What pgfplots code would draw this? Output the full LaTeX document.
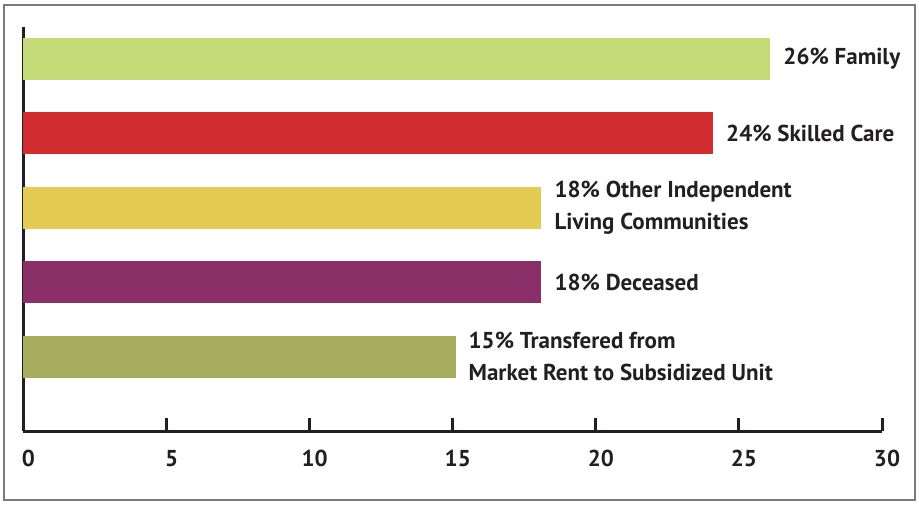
\documentclass[border=0pt]{standalone}
\usepackage{pgfplots}
\pgfplotsset{compat=1.18}
\usepackage{fontspec}
\setmainfont{PT Sans}
\definecolor{cfamily}{HTML}{C4DB78}
\definecolor{cskilled}{HTML}{D12C2E}
\definecolor{cother}{HTML}{E6CB52}
\definecolor{cdeceased}{HTML}{8A2F68}
\definecolor{ctransfer}{HTML}{A6AD5C}
\definecolor{ink}{HTML}{231F20}
\definecolor{framegray}{HTML}{7A7A7A}
\begin{document}
\begin{tikzpicture}
\begin{axis}[
    scale only axis,
    width=429.25pt,
    height=202pt,
    xbar,
    bar width=21pt,
    bar shift=0pt,
    xmin=0, xmax=30,
    ymin=0, ymax=5.43,
    axis x line*=bottom,
    axis y line*=left,
    axis line style={ink, line width=1.5pt, -},
    xtick={5,10,15,20,25,30},
    extra x ticks={0},
    extra x tick style={major tick length=0pt},
    ytick=\empty,
    tick style={ink, line width=1.5pt},
    major tick length=6.5pt,
    tick align=inside,
    xticklabel style={font=\fontsize{11.5}{14}\selectfont\bfseries, text=ink, yshift=-6pt, xshift=2.5pt},
    /pgf/number format/assume math mode=true,
    clip=false,
    point meta=explicit symbolic,
    nodes near coords,
    nodes near coords style={anchor=west, align=left, xshift=3pt,
        font=\fontsize{11.5}{16}\selectfont\bfseries, text=ink},
    ]
\addplot[fill=cfamily, draw=none] coordinates {(26.1,5) [26\% Family]};
\addplot[fill=cskilled, draw=none] coordinates {(24.1,4) [24\% Skilled Care]};
\addplot[fill=cother, draw=none] coordinates {(18.1,3) [{18\% Other Independent\\Living Communities}]};
\addplot[fill=cdeceased, draw=none] coordinates {(18.1,2) [18\% Deceased]};
\addplot[fill=ctransfer, draw=none] coordinates {(15.1,1) [{15\% Transfered from\\Market Rent to Subsidized Unit}]};
\end{axis}
\draw[framegray, line width=1pt]
    ([xshift=-9.75pt, yshift=-34.5pt]current axis.south west)
    rectangle ([xshift=16.5pt, yshift=11pt]current axis.north east);
\pgfresetboundingbox
\path[use as bounding box]
    ([xshift=-11.75pt, yshift=-36.5pt]current axis.south west)
    rectangle ([xshift=18.5pt, yshift=13.5pt]current axis.north east);
\end{tikzpicture}
\end{document}
